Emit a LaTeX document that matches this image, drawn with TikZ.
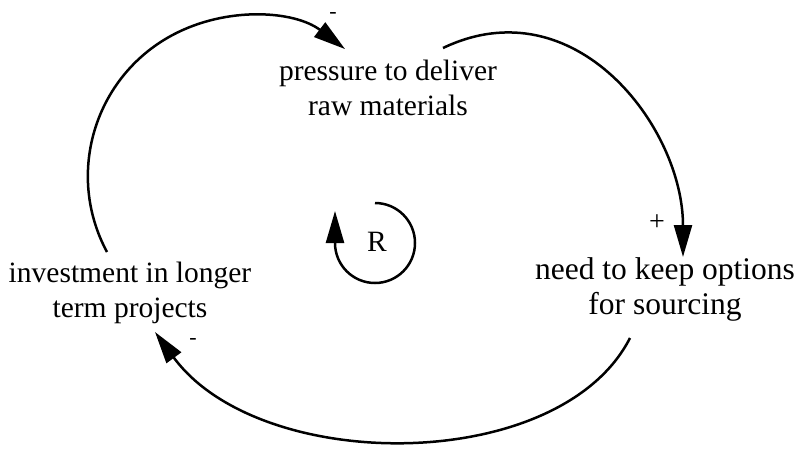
\documentclass[tikz,border=0pt]{standalone}
\usepackage{fontspec}
\setmainfont{Liberation Serif}
\newfontfamily\diagserif{Liberation Serif}
\usetikzlibrary{arrows.meta,calc}
\begin{document}
\begin{tikzpicture}[x=1pt,y=-1pt,
  lbl/.style={align=center,font=\diagserif\fontsize{29.5}{35}\selectfont,inner sep=0pt},
  lblw/.style={align=center,font=\diagserif\fontsize{31.5}{35}\selectfont,inner sep=0pt},
  sgn/.style={font=\diagserif\fontsize{28}{30}\selectfont,inner sep=0pt},
  sgnm/.style={font=\diagserif\fontsize{22}{24}\selectfont,inner sep=0pt},
  link/.style={line width=2.5pt,-{Triangle[length=32pt,width=18pt]}}]
\useasboundingbox (0,0) rectangle (796,453);
\node[lbl] (press) at (388,88) {pressure to deliver\\raw materials};
\node[lblw] (need) at (665,289) {need to keep options\\for sourcing};
\node[lbl] (inv) at (130,293) {investment in longer\\term projects};
\node[lbl] (R) at (377,242) {R};
\draw[link] ($(inv.center)+(-23,-41)$) arc[start angle=151.7,end angle=307.4,radius=160];
\draw[link] ($(press.center)+(55,-40)$) .. controls (575,-15) and (683,127) .. ($(need.center)+(18,-32)$);
\draw[link] ($(need.center)+(-35,49)$) .. controls (560,475) and (260,475) .. ($(inv.center)+(25,39)$);
\draw[link] ($(R.center)+(-2,-39)$) arc[start angle=-90,end angle=180,radius=40] -- ++(0,-32);
\node[sgnm] (s1) at (333,15) {-};
\node[sgn] (s2) at (657,223) {+};
\node[sgnm] (s3) at (193,341) {-};
\end{tikzpicture}
\end{document}
